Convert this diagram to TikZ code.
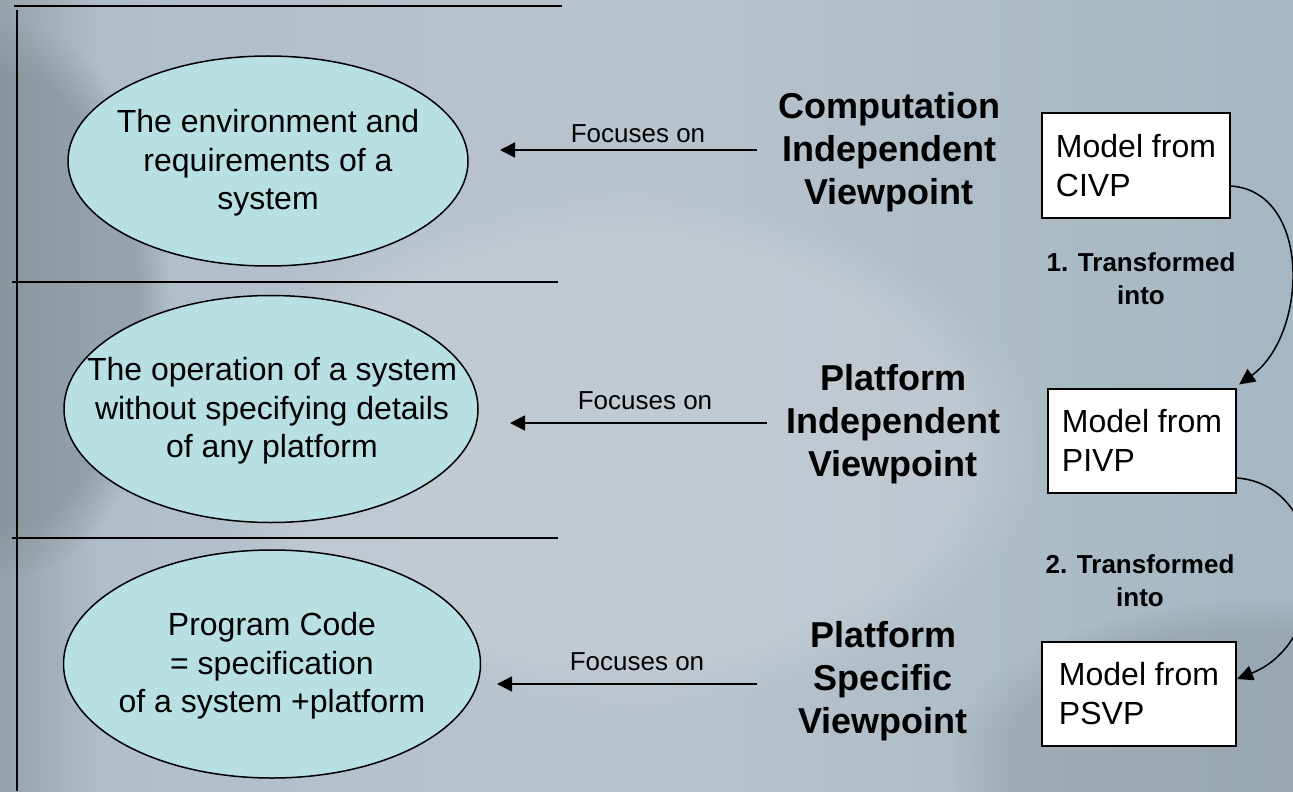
\documentclass[tikz,border=0pt]{standalone}
\usepackage{fontspec}
\setmainfont{Liberation Sans}
\usetikzlibrary{shapes.geometric,arrows.meta,fadings}
\definecolor{ovalfill}{RGB}{184,224,227}
\definecolor{bgA}{RGB}{150,162,170}
\definecolor{bgB}{RGB}{176,190,202}
\definecolor{bgC}{RGB}{186,196,205}
\definecolor{bgD}{RGB}{174,189,199}
\definecolor{bgE}{RGB}{165,183,195}
\definecolor{bgDark}{RGB}{128,140,148}
\definecolor{bgLight}{RGB}{198,205,212}
\pgfdeclarehorizontalshading{bgh}{100bp}{color(0bp)=(bgA); color(25bp)=(bgA); color(29bp)=(bgB); color(50bp)=(bgC); color(63bp)=(bgD); color(75bp)=(bgE); color(100bp)=(bgE)}
\begin{document}
\begin{tikzpicture}[x=0.5pt,y=-0.5pt,
  frame/.style={line width=1pt,black},
  oval/.style={ellipse,draw=black,line width=0.75pt,fill=ovalfill,inner sep=0pt},
  ovaltext/.style={align=center,font=\fontsize{16}{19.25}\selectfont,inner sep=0pt},
  viewtitle/.style={align=center,font=\bfseries\fontsize{18}{21.5}\selectfont,inner sep=0pt},
  focuslabel/.style={font=\fontsize{13}{15.6}\selectfont,inner sep=0pt},
  focus/.style={line width=0.75pt,-{Triangle[length=7.5pt,width=7.5pt]}},
  modelbox/.style={rectangle,draw=black,line width=1pt,fill=white,minimum width=93pt,minimum height=52pt,align=left,inner xsep=7pt,font=\fontsize{16}{19.5}\selectfont},
  translabel/.style={align=center,font=\bfseries\fontsize{13}{16.5}\selectfont,inner sep=0pt},
  trans/.style={line width=0.75pt,-{Triangle[length=8pt,width=7.5pt]}}]
\useasboundingbox (0,0) rectangle (1293,791);
\clip (0,0) rectangle (1293,791);
% background
\shade[shading=bgh] (0,0) rectangle (1293,791);
\fill[bgLight,path fading=circle with fuzzy edge 20 percent,opacity=0.7] (620,450) ellipse [x radius=420, y radius=260];
\fill[bgDark,path fading=circle with fuzzy edge 20 percent,opacity=0.55] (0,300) ellipse [x radius=170, y radius=280];
\fill[bgDark,path fading=circle with fuzzy edge 20 percent,opacity=0.35] (1250,760) ellipse [x radius=300, y radius=160];
% frame lines
\draw[frame] (14,6) -- (562,6);
\draw[frame] (17,10) -- (17,791);
\draw[frame] (12,282) -- (558,282);
\draw[frame] (12,538) -- (558,538);
% ovals
\node[oval,minimum width=200pt,minimum height=105pt] (e1) at (268,161) {};
\node[ovaltext] (e1t) at (268,163) {The environment and\\requirements of a\\system};
\node[oval,minimum width=207pt,minimum height=113.5pt] (e2) at (271,409) {};
\node[ovaltext] (e2t) at (272,411) {The operation of a system\\without specifying details\\of any platform};
\node[oval,minimum width=208.5pt,minimum height=114pt] (e3) at (272,664) {};
\node[ovaltext] (e3t) at (272,666) {Program Code\\= specification\\of a system +platform};
% viewpoint titles
\node[viewtitle] (t1) at (889,152) {Computation\\Independent\\Viewpoint};
\node[viewtitle] (t2) at (893,424) {Platform\\Independent\\Viewpoint};
\node[viewtitle] (t3) at (883,681) {Platform\\Specific\\Viewpoint};
% focus arrows
\coordinate (f1s) at (757,150); \coordinate (f1e) at (500,150);
\coordinate (f2s) at (767,423); \coordinate (f2e) at (510,423);
\coordinate (f3s) at (757,684); \coordinate (f3e) at (497,684);
\draw[focus] (f1s) -- (f1e);
\draw[focus] (f2s) -- (f2e);
\draw[focus] (f3s) -- (f3e);
\node[focuslabel] (l1) at (638,134) {Focuses on};
\node[focuslabel] (l2) at (645,401) {Focuses on};
\node[focuslabel] (l3) at (637,662) {Focuses on};
% model boxes
\node[modelbox] (b1) at (1136,165.5) {Model from\\CIVP};
\node[modelbox] (b2) at (1142,440.5) {Model from\\PIVP};
\node[modelbox,minimum width=97pt] (b3) at (1139,694) {Model from\\PSVP};
% transformations
\node[translabel] (tr1) at (1141,279) {1. Transformed\\into};
\node[translabel] (tr2) at (1140,581) {2. Transformed\\into};
\draw[trans] ([yshift=-10.25pt]b1.east) .. controls (1312,192) and (1308,335) .. ([shift={(1pt,1.5pt)}]b2.north east);
\draw[trans] ([yshift=-18.75pt]b2.east) .. controls (1330,485) and (1335,640) .. ([yshift=7.5pt]b3.east);
\end{tikzpicture}
\end{document}
